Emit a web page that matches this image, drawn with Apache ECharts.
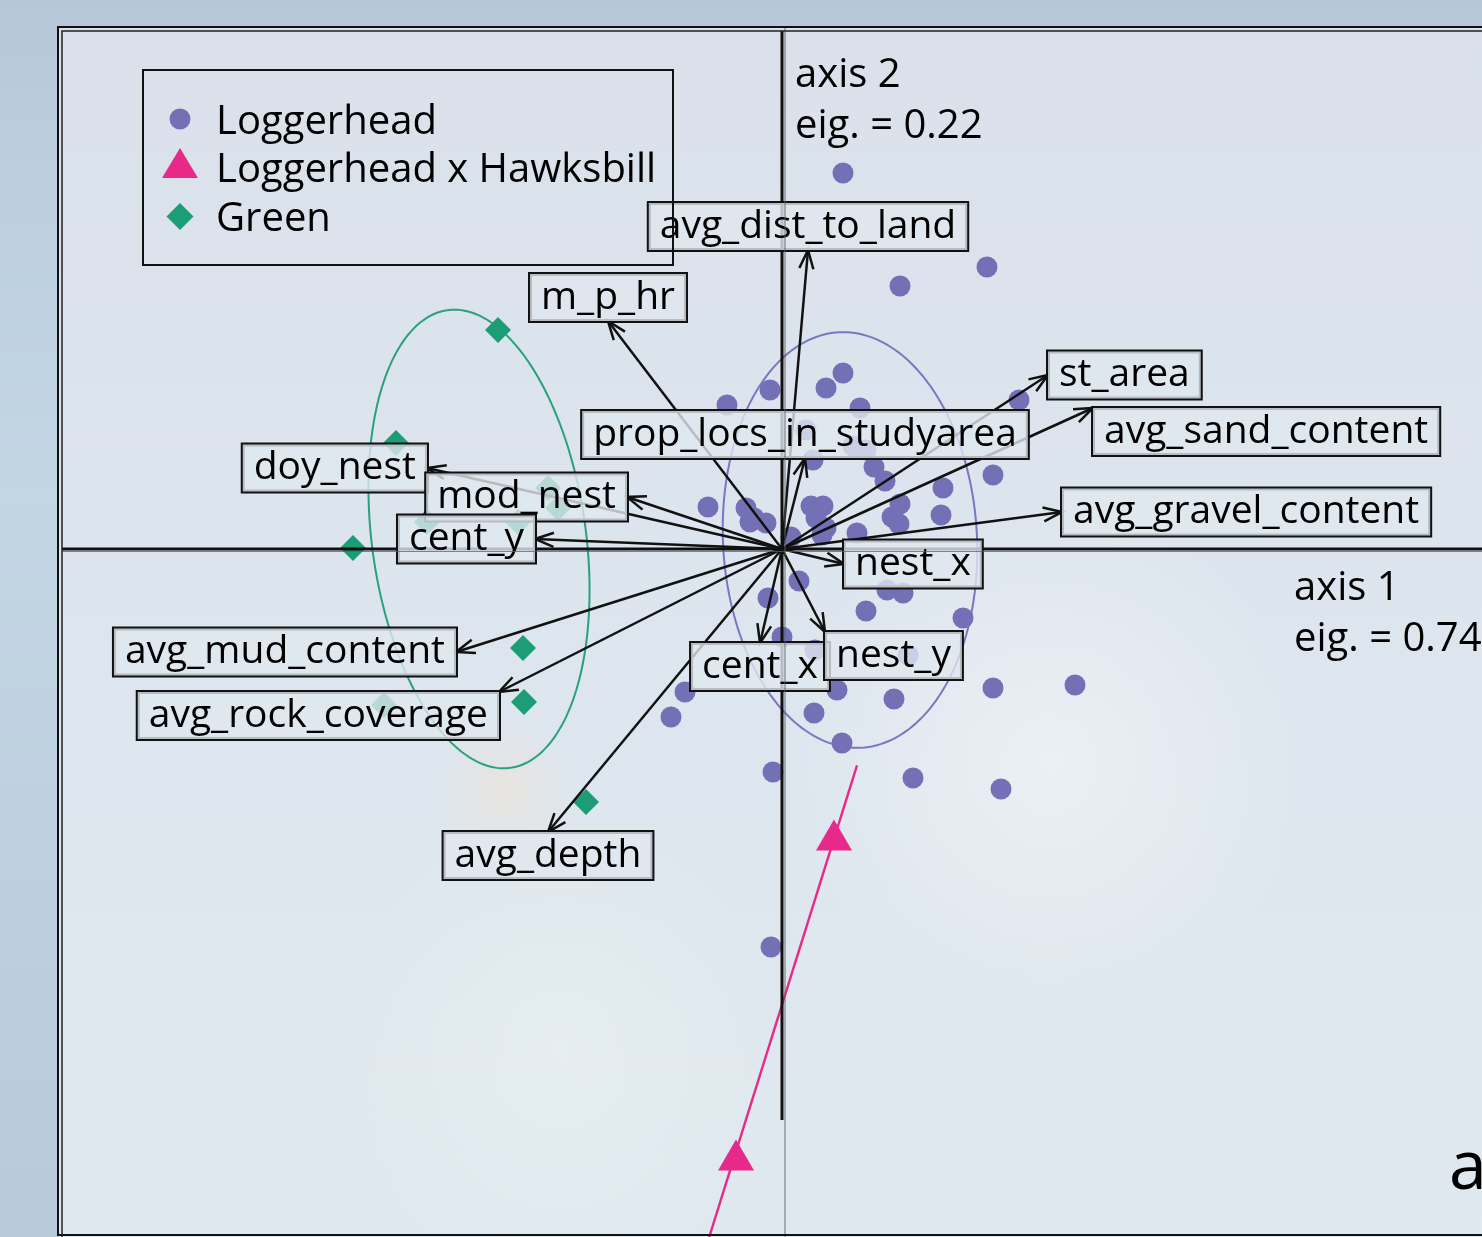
<!DOCTYPE html>
<html>
<head>
<meta charset="utf-8">
<script src="https://cdn.jsdelivr.net/npm/echarts@6/dist/echarts.min.js"></script>
<style>
  html, body { margin: 0; padding: 0; }
  #chart {
    width: 1482px; height: 1237px;
    background: linear-gradient(180deg, #b7c6d8 0%, #bdcfdf 15%, #c3d6e4 40%, #bfd1e0 65%, #b8c9db 100%);
  }
</style>
</head>
<body>
<div id="chart"></div>
<script>
// Site scores on ordination axes 1 and 2
const loggerheadX = [0.244, 0.82, 0.472, 0.244, 0.176, -0.048, -0.22, 0.312, 0.948, 0.096,
  0.284, 0.336, 0.124, 0.368, 0.412, 0.844, 0.644, -0.296, -0.144, -0.112,
  -0.064, -0.128, 0.116, 0.164, 0.136, 0.176, 0.16, 0.3, 0.472, 0.44,
  0.468, 0.636, 0.036, 0.068, -0.056, 0.42, 0.484, 0.336, 0.724, 0.0,
  0.132, 0.504, -0.388, -0.444, 0.22, 0.448, 0.128, 0.24, 0.844, 1.172,
  -0.036, 0.524, 0.876, -0.044];
const loggerheadY = [1.504, 1.128, 1.052, 0.704, 0.644, 0.636, 0.576, 0.564, 0.596, 0.476,
  0.412, 0.396, 0.356, 0.328, 0.272, 0.296, 0.244, 0.168, 0.164, 0.124,
  0.104, 0.108, 0.172, 0.172, 0.124, 0.084, 0.056, 0.064, 0.18, 0.128,
  0.1, 0.136, 0.048, -0.128, -0.196, -0.164, -0.176, -0.248, -0.276, -0.352,
  -0.404, -0.424, -0.572, -0.672, -0.564, -0.6, -0.656, -0.776, -0.556, -0.544,
  -0.892, -0.916, -0.96, -1.592];

const hybridX = [0.208, -0.184];
const hybridY = [-1.144, -2.424];

const greenX = [-1.136, -1.544, -0.936, -0.896, -1.42, -1.056, -1.716, -1.036, -1.032, -1.592, -0.784];
const greenY = [0.876, 0.424, 0.244, 0.164, 0.108, 0.108, 0.004, -0.396, -0.612, -0.624, -1.012];

// Environmental variable loadings (biplot arrows)
const varNames = ['avg_dist_to_land', 'm_p_hr', 'st_area', 'avg_sand_content', 'avg_gravel_content',
  'prop_locs_in_studyarea', 'doy_nest', 'mod_nest', 'cent_y', 'nest_x',
  'avg_mud_content', 'avg_rock_coverage', 'avg_depth', 'cent_x', 'nest_y'];
const varX = [0.104, -0.696, 1.064, 1.244, 1.12, 0.092, -1.42, -0.62, -0.988, 0.248, -1.304, -1.132, -0.936, -0.088, 0.172];
const varY = [1.196, 0.912, 0.696, 0.564, 0.148, 0.364, 0.324, 0.208, 0.04, -0.06, -0.412, -0.572, -1.132, -0.376, -0.332];

// Axis eigenvalues
const axisNames = ['axis 1', 'axis 2'];
const axisEig = ['0.74', '0.22'];

// Group ellipses: centre, semi-axes, rotation (degrees)
const ellipseGroup = ['Loggerhead', 'Green', 'Loggerhead x Hawksbill'];
const ellipseCx = [0.272, -1.212, 0.001];
const ellipseCy = [0.036, 0.04, -1.82];
const ellipseA = [0.832, 0.924, 1.0];
const ellipseB = [0.508, 0.428, 0];
const ellipseAngle = [93, 97.8, 72.6];

const panelTag = 'a';

// ---- styling ----
const FONT = '"Open Sans", "Noto Sans", sans-serif';
const TXT = '500 40px ' + FONT;
const LBL = '500 39px ' + FONT;
const COL = { Loggerhead: '#7470b6', Green: '#1d9d77', 'Loggerhead x Hawksbill': '#e7298a' };
const ELLIPSE_COL = { Loggerhead: '#7b76c2', Green: '#2aa07c', 'Loggerhead x Hawksbill': '#e7298a' };

// where each variable's label box sits relative to its arrow tip
const labelSide = {
  avg_dist_to_land: 'top', m_p_hr: 'top', prop_locs_in_studyarea: 'top',
  st_area: 'right', avg_sand_content: 'rightBelow', avg_gravel_content: 'right', nest_x: 'right',
  doy_nest: 'left', mod_nest: 'left', cent_y: 'left', avg_mud_content: 'left',
  avg_rock_coverage: 'leftBelow', nest_y: 'rightBelow', cent_x: 'bottom', avg_depth: 'bottom'
};
const sideAlign = {
  top: ['center', 'bottom'], bottom: ['center', 'top'], right: ['left', 'middle'],
  left: ['right', 'middle'], rightBelow: ['left', 'top'], leftBelow: ['right', 'top']
};

const chart = echarts.init(document.getElementById('chart'));

function ellipseRender(params, api) {
  const i = api.value(2);
  const cx = ellipseCx[i], cy = ellipseCy[i], a = ellipseA[i], b = ellipseB[i];
  const th = ellipseAngle[i] * Math.PI / 180;
  const pts = [];
  const n = b === 0 ? 1 : 200;
  for (let k = 0; k <= n; k++) {
    const t = b === 0 ? (k === 0 ? 0 : Math.PI) : k / n * 2 * Math.PI;
    const ex = a * Math.cos(t), ey = b * Math.sin(t);
    pts.push(api.coord([cx + ex * Math.cos(th) - ey * Math.sin(th), cy + ex * Math.sin(th) + ey * Math.cos(th)]));
  }
  return {
    type: 'polyline', shape: { points: pts },
    style: { stroke: ELLIPSE_COL[ellipseGroup[i]], lineWidth: b === 0 ? 2.4 : 2, fill: null }
  };
}

function arrowRender(params, api) {
  const o = api.coord([0, 0]);
  const t = api.coord([api.value(0), api.value(1)]);
  const ang = Math.atan2(o[1] - t[1], o[0] - t[0]);
  const L = 20, w = 0.36;
  const h1 = [t[0] + L * Math.cos(ang + w), t[1] + L * Math.sin(ang + w)];
  const h2 = [t[0] + L * Math.cos(ang - w), t[1] + L * Math.sin(ang - w)];
  return {
    type: 'group', children: [
      { type: 'line', shape: { x1: o[0], y1: o[1], x2: t[0], y2: t[1] }, style: { stroke: '#111', lineWidth: 2.5 } },
      { type: 'polyline', shape: { points: [h1, t, h2] }, style: { stroke: '#111', lineWidth: 2.5, fill: null } }
    ]
  };
}

function labelRender(params, api) {
  const i = api.value(2);
  const name = varNames[i];
  const t = api.coord([api.value(0), api.value(1)]);
  const al = sideAlign[labelSide[name]];
  return {
    type: 'text', z2: 10,
    style: {
      text: name, x: t[0], y: t[1], align: al[0], verticalAlign: al[1],
      font: LBL, fill: '#000', lineHeight: 43,
      backgroundColor: 'rgba(224,231,239,0.8)', borderColor: '#111', borderWidth: 2,
      padding: [2, 11, 2, 11]
    }
  };
}

function axisCrossRender(params, api) {
  const cs = params.coordSys;
  const o = api.coord([0, 0]);
  const top = api.coord([0, 2.072]);
  const bot = api.coord([0, -2.284]);
  const left = api.coord([-2.88, 0]);
  return {
    type: 'group', children: [
      { type: 'line', shape: { x1: o[0], y1: top[1], x2: o[0], y2: bot[1] }, style: { stroke: '#111', lineWidth: 3 } },
      { type: 'line', shape: { x1: left[0], y1: o[1], x2: cs.x + cs.width, y2: o[1] }, style: { stroke: '#111', lineWidth: 3 } }
    ]
  };
}

function overlayRender(params, api) {
  const cs = params.coordSys;
  const o = api.coord([0, 0]);
  const top = api.coord([0, 2.088]);
  const left = api.coord([-2.88, 0]);
  return {
    type: 'group', children: [
      { type: 'line', shape: { x1: o[0] + 3, y1: top[1], x2: o[0] + 3, y2: cs.y + cs.height }, style: { stroke: 'rgba(95,95,95,0.75)', lineWidth: 1.2 } },
      { type: 'line', shape: { x1: left[0], y1: o[1] + 2.5, x2: cs.x + cs.width, y2: o[1] + 2.5 }, style: { stroke: 'rgba(95,95,95,0.75)', lineWidth: 1.2 } }
    ]
  };
}

const varData = varNames.map((n, i) => [varX[i], varY[i], i]);

const option = {
  animation: false,
  grid: { left: 0, right: 0, top: 0, bottom: 0 },
  xAxis: { type: 'value', min: -3.128, max: 2.8, show: false },
  yAxis: { type: 'value', min: -2.752, max: 2.196, show: false },
  graphic: [
    // plot panel
    { type: 'rect', z: -10, silent: true, shape: { x: 58, y: 27, width: 1500, height: 1230 },
      style: { fill: new echarts.graphic.LinearGradient(0, 0, 0, 1, [
        { offset: 0, color: '#dae1ea' }, { offset: 0.5, color: '#dde5ee' }, { offset: 1, color: '#e0e9ef' }]) } },
    { type: 'circle', z: -9, silent: true, shape: { cx: 1050, cy: 760, r: 260 },
      style: { fill: new echarts.graphic.RadialGradient(0.5, 0.5, 0.5, [
        { offset: 0, color: 'rgba(240,244,246,0.7)' }, { offset: 1, color: 'rgba(240,244,246,0)' }]) } },
    { type: 'circle', z: -9, silent: true, shape: { cx: 560, cy: 1050, r: 230 },
      style: { fill: new echarts.graphic.RadialGradient(0.5, 0.5, 0.5, [
        { offset: 0, color: 'rgba(232,240,242,0.7)' }, { offset: 1, color: 'rgba(232,240,242,0)' }]) } },
    { type: 'circle', z: -9, silent: true, shape: { cx: 505, cy: 790, r: 70 },
      style: { fill: new echarts.graphic.RadialGradient(0.5, 0.5, 0.5, [
        { offset: 0, color: 'rgba(245,225,205,0.45)' }, { offset: 1, color: 'rgba(245,225,205,0)' }]) } },
    // double frame
    { type: 'rect', z: 50, silent: true, shape: { x: 58, y: 27, width: 1500, height: 1208 },
      style: { fill: null, stroke: '#111', lineWidth: 2 } },
    { type: 'rect', z: 50, silent: true, shape: { x: 62, y: 31, width: 1500, height: 1300 },
      style: { fill: null, stroke: '#222', lineWidth: 1.5 } },
    // legend
    { type: 'rect', z: 60, silent: true, shape: { x: 143, y: 70, width: 530, height: 195 },
      style: { fill: null, stroke: '#111', lineWidth: 2 } },
    { type: 'circle', z: 60, silent: true, shape: { cx: 180, cy: 119, r: 10.5 }, style: { fill: COL.Loggerhead } },
    { type: 'polygon', z: 60, silent: true, shape: { points: [[180, 148], [198, 178], [162, 178]] }, style: { fill: COL['Loggerhead x Hawksbill'] } },
    { type: 'polygon', z: 60, silent: true, shape: { points: [[180, 203], [193.5, 216.5], [180, 230], [166.5, 216.5]] }, style: { fill: COL.Green } },
    { type: 'text', z: 60, silent: true, style: { x: 216, y: 123, text: 'Loggerhead', font: TXT, fill: '#000', verticalAlign: 'middle' } },
    { type: 'text', z: 60, silent: true, style: { x: 216, y: 171, text: 'Loggerhead x Hawksbill', font: TXT, fill: '#000', verticalAlign: 'middle' } },
    { type: 'text', z: 60, silent: true, style: { x: 216, y: 220, text: 'Green', font: TXT, fill: '#000', verticalAlign: 'middle' } },
    // axis annotations
    { type: 'text', z: 60, silent: true, style: { x: 795, y: 50, text: axisNames[1] + '\neig. = ' + axisEig[1], font: TXT, lineHeight: 51, fill: '#000', verticalAlign: 'top' } },
    { type: 'text', z: 60, silent: true, style: { x: 1294, y: 563, text: axisNames[0] + '\neig. = ' + axisEig[0], font: TXT, lineHeight: 51, fill: '#000', verticalAlign: 'top' } },
    { type: 'text', z: 60, silent: true, style: { x: 1449, y: 1204, text: panelTag, font: '500 68px ' + FONT, fill: '#000', verticalAlign: 'bottom' } }
  ],
  series: [
    { type: 'custom', name: 'ellipses', z: 1, silent: true, renderItem: ellipseRender,
      data: ellipseGroup.map((g, i) => [ellipseCx[i], ellipseCy[i], i]) },
    { type: 'scatter', name: 'Loggerhead', z: 2, silent: true, symbol: 'circle', symbolSize: 21,
      itemStyle: { color: COL.Loggerhead, opacity: 1 }, data: loggerheadX.map((x, i) => [x, loggerheadY[i]]) },
    { type: 'scatter', name: 'Green', z: 2, silent: true, symbol: 'diamond', symbolSize: 26,
      itemStyle: { color: COL.Green, opacity: 1 }, data: greenX.map((x, i) => [x, greenY[i]]) },
    { type: 'scatter', name: 'Loggerhead x Hawksbill', z: 2, silent: true, symbol: 'triangle', symbolSize: [36, 31],
      itemStyle: { color: COL['Loggerhead x Hawksbill'], opacity: 1 }, data: hybridX.map((x, i) => [x, hybridY[i]]) },
    { type: 'custom', name: 'axes', z: 3, silent: true, renderItem: axisCrossRender, data: [[0, 0]] },
    { type: 'custom', name: 'arrows', z: 4, silent: true, renderItem: arrowRender, data: varData },
    { type: 'custom', name: 'labels', z: 5, silent: true, renderItem: labelRender, data: varData },
    { type: 'custom', name: 'overlay', z: 6, silent: true, renderItem: overlayRender, data: [[0, 0]] }
  ]
};
chart.setOption(option);
</script>
</body>
</html>
